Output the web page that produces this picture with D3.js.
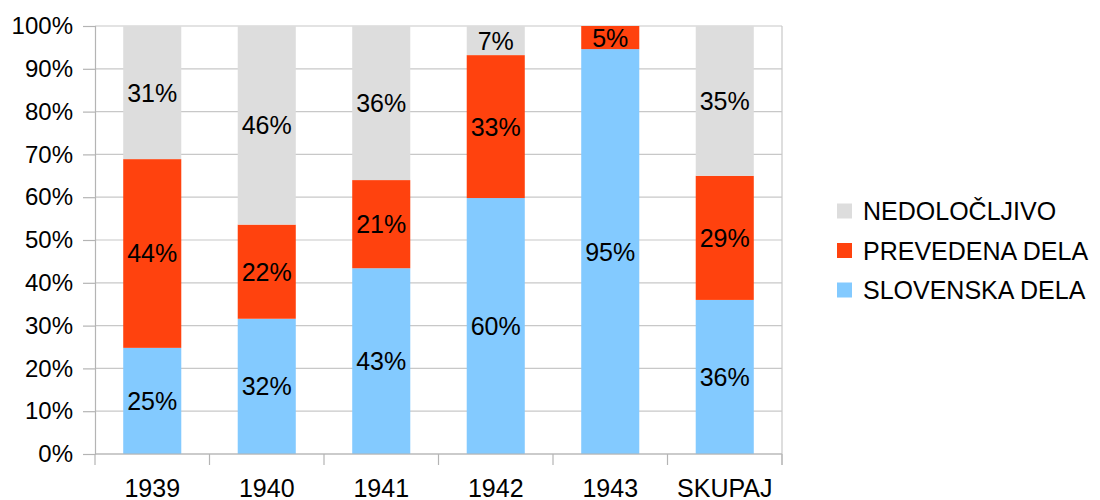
<!DOCTYPE html>
<html>
<head>
<meta charset="utf-8">
<script src="https://cdn.jsdelivr.net/npm/d3@7"></script>
<style>
    body { margin: 0; background: #fff; }
    text { font-family: "Liberation Sans", Arial, sans-serif; fill: #000; }
</style>
</head>
<body>
<div id="chart"></div>
<script>
// categories and series (percent of each year)
const years = ["1939", "1940", "1941", "1942", "1943", "SKUPAJ"];
const slovenska = [24.8, 31.6, 43.4, 59.8, 94.6, 36.0];
const prevedena = [44.1, 22.0, 20.6, 33.4, 5.4, 29.0];
const nedolocljivo = [31.1, 46.4, 36.0, 6.8, 0, 35.0];

const seriesNames = ["SLOVENSKA DELA", "PREVEDENA DELA", "NEDOLOČLJIVO"];
const seriesColors = ["#83caff", "#ff420e", "#dddddd"];
const yTicks = [0, 10, 20, 30, 40, 50, 60, 70, 80, 90, 100];

const width = 1100, height = 500;
const margin = {top: 26, right: 318, bottom: 46, left: 95};
const innerW = width - margin.left - margin.right;
const innerH = height - margin.top - margin.bottom;

const svg = d3.select("#chart").append("svg")
    .attr("width", width)
    .attr("height", height);

const g = svg.append("g")
    .attr("transform", "translate(" + margin.left + "," + margin.top + ")");

const x = d3.scaleBand()
    .domain(years)
    .range([0, innerW])
    .paddingInner(0.493)
    .paddingOuter(0.2465);

const y = d3.scaleLinear()
    .domain([0, 100])
    .range([innerH, 0]);

// gridlines
g.selectAll(".grid")
    .data(yTicks)
    .enter()
    .append("line")
    .attr("x1", 0)
    .attr("x2", innerW)
    .attr("y1", d => y(d))
    .attr("y2", d => y(d))
    .attr("stroke", "#c8c8c8")
    .attr("stroke-width", 1.2);

// right border
g.append("line")
    .attr("x1", innerW).attr("x2", innerW)
    .attr("y1", 0).attr("y2", innerH + 11)
    .attr("stroke", "#c8c8c8")
    .attr("stroke-width", 1.2);

// stacked data
const table = years.map((yr, i) => ({
    year: yr,
    s0: slovenska[i],
    s1: prevedena[i],
    s2: nedolocljivo[i]
}));
const stack = d3.stack().keys(["s0", "s1", "s2"]);
const layers = stack(table);

const fmt = v => Math.round(v) + "%";

const layer = g.selectAll(".layer")
    .data(layers)
    .enter()
    .append("g")
    .attr("fill", (d, i) => seriesColors[i]);

layer.selectAll("rect")
    .data(d => d)
    .enter()
    .append("rect")
    .attr("x", d => x(d.data.year))
    .attr("width", x.bandwidth())
    .attr("y", d => y(d[1]))
    .attr("height", d => y(d[0]) - y(d[1]));

// labels in segments
layers.forEach(function (ly) {
    g.selectAll(null)
        .data(ly.filter(d => d[1] - d[0] > 0))
        .enter()
        .append("text")
        .attr("x", d => x(d.data.year) + x.bandwidth() / 2)
        .attr("y", d => (y(d[0]) + y(d[1])) / 2)
        .attr("dy", "0.36em")
        .attr("text-anchor", "middle")
        .style("font-size", "25px")
        .text(d => fmt(d[1] - d[0]));
});

// y axis
const yAxis = g.append("g")
    .call(d3.axisLeft(y).tickValues(yTicks).tickSize(12).tickPadding(10).tickFormat(d => d + "%"));
yAxis.select(".domain").attr("stroke", "#b4b4b4").attr("stroke-width", 1.2);
yAxis.selectAll(".tick line").attr("stroke", "#b4b4b4").attr("stroke-width", 1.2);
yAxis.selectAll(".tick text").style("font-size", "24px").attr("fill", "#000")
    .style("font-family", "'Liberation Sans', Arial, sans-serif");

// x axis line and ticks between categories
const xAxisG = g.append("g").attr("transform", "translate(0," + innerH + ")");
xAxisG.append("line")
    .attr("x1", 0).attr("x2", innerW)
    .attr("stroke", "#b4b4b4").attr("stroke-width", 1.2);
const step = x.step();
xAxisG.selectAll(".xt")
    .data(d3.range(years.length + 1))
    .enter()
    .append("line")
    .attr("x1", d => d * step)
    .attr("x2", d => d * step)
    .attr("y1", 0)
    .attr("y2", 11)
    .attr("stroke", "#b4b4b4").attr("stroke-width", 1.2);
xAxisG.selectAll(".xl")
    .data(years)
    .enter()
    .append("text")
    .attr("x", d => x(d) + x.bandwidth() / 2)
    .attr("y", 43)
    .attr("text-anchor", "middle")
    .style("font-size", "25px")
    .text(d => d);

// legend (reverse order: top is NEDOLOČLJIVO)
const legend = svg.append("g").attr("transform", "translate(837,211)");
const legendItems = [2, 1, 0];
legendItems.forEach(function (si, k) {
    const row = legend.append("g").attr("transform", "translate(0," + (k * 39.5) + ")");
    row.append("rect")
        .attr("x", 0).attr("y", -7.5)
        .attr("width", 15).attr("height", 15)
        .attr("fill", seriesColors[si]);
    row.append("text")
        .attr("x", 26)
        .attr("y", 0)
        .attr("dy", "0.36em")
        .style("font-size", "25px")
        .text(seriesNames[si]);
});
</script>
</body>
</html>
